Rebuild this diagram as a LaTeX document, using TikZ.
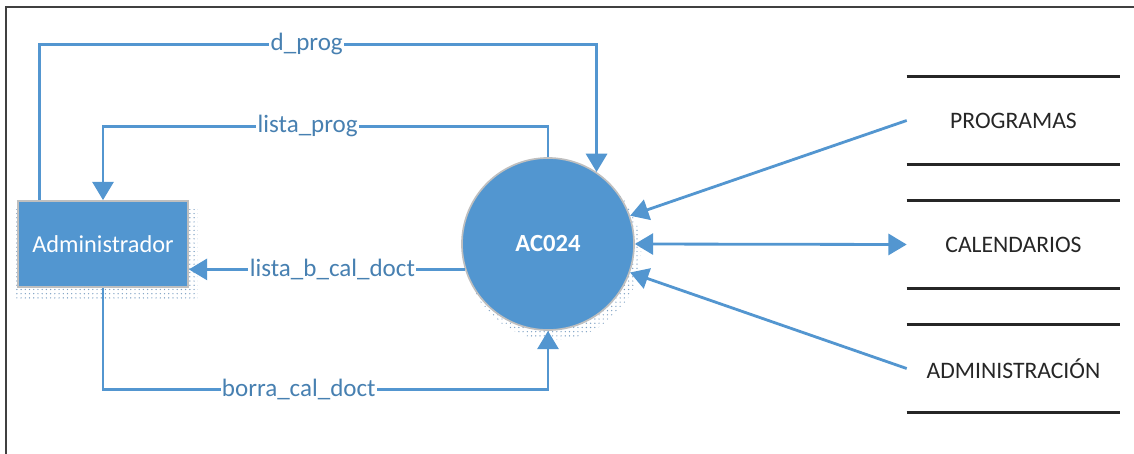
\documentclass[tikz,border=0pt]{standalone}
\usepackage{fontspec}
\setmainfont{Carlito}
\usetikzlibrary{arrows.meta,calc,patterns,backgrounds}
\definecolor{flowblue}{RGB}{83,150,208}
\definecolor{boxblue}{RGB}{82,150,208}
\definecolor{shadowdot}{RGB}{125,160,195}
\tikzset{
  flow/.style={draw=flowblue, line width=2pt, ->},
  lbl/.style={fill=white, text=flowblue!85!black, inner sep=1pt, font=\fontsize{17.8}{20}\selectfont},
  store/.style={minimum width=5.325cm, minimum height=2.175cm, inner sep=0pt, text=black!85, font=\fontsize{16.8}{20}\selectfont},
  storeline/.style={line width=1.8pt, draw=black!85},
}
\begin{document}
\begin{tikzpicture}[x=0.025cm, y=-0.025cm, >={Triangle[width=15pt,length=13pt]}]
  \useasboundingbox (0,0) rectangle (1134,454);
  % frame
  \draw[line width=1.4pt, draw=black!75] (6,454) -- (6,7) -- (1134,7);

  % entity and process
  \node[draw=black!25, line width=1.2pt, fill=boxblue, text=white, minimum width=4.25cm, minimum height=2.15cm,
        font=\fontsize{17.3}{20}\selectfont] (adm) at (103,244) {Administrador};
  \node[draw=black!25, line width=1.2pt, fill=boxblue, text=white, circle, minimum size=4.3cm, inner sep=0pt,
        font=\bfseries\fontsize{17.5}{20}\selectfont] (proc) at (548,244) {AC024};

  % data stores
  \node[store] (prog) at (1013.5,120.5) {PROGRAMAS};
  \node[store] (cal) at (1013.5,244.5) {CALENDARIOS};
  \node[store] (admin) at (1013.5,368.5) {ADMINISTRACIÓN};
  \foreach \s in {prog,cal,admin}{
    \draw[storeline] (\s.north west) -- (\s.north east);
    \draw[storeline] (\s.south west) -- (\s.south east);
  }

  % shadows
  \begin{scope}[on background layer]
    \fill[pattern=dots, pattern color=shadowdot] ($(adm.north west)+(-3,9)$) rectangle ($(adm.south east)+(9,11)$);
    \fill[pattern=dots, pattern color=shadowdot] ($(proc.center)+(5,8)$) circle[radius=2.2cm];
  \end{scope}

  % flows
  \draw[flow] ($(adm.north west)+(22,0)$) -- ++(0,-156) -| node[lbl,pos=0.24]{d\_prog} (proc.56);
  \draw[flow] (proc.north) -- ++(0,-31) -| node[lbl,pos=0.27]{lista\_prog} (adm.north);
  \draw[flow] (proc.197.6) -- node[lbl,pos=0.48]{lista\_b\_cal\_doct} (adm.east |- proc.197.6);
  \draw[flow] (adm.south) -- ++(0,102) -| node[lbl,pos=0.22]{borra\_cal\_doct} (proc.south);

  \draw[flow] (prog.west) -- (proc);
  \draw[flow,<->] (proc.east) -- (cal.west);
  \draw[flow] (admin.west) -- (proc);
\end{tikzpicture}
\end{document}
